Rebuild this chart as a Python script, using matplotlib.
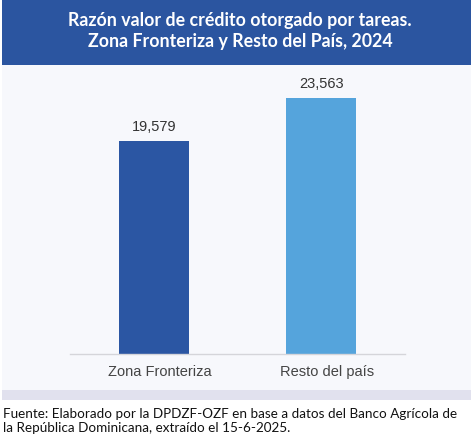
import matplotlib
matplotlib.use("Agg")
import matplotlib.pyplot as plt
import matplotlib.transforms as mtransforms
from matplotlib.patches import Rectangle

# datos
categorias = ["Zona Fronteriza", "Resto del país"]
valores = [19579, 23563]
etiquetas = ["19,579", "23,563"]
colores = ["#2b56a3", "#55a4dc"]

titulo = "Razón valor de crédito otorgado por tareas.\nZona Fronteriza y Resto del País, 2024"
fuente = ("Fuente: Elaborado por la DPDZF-OZF en base a datos del Banco Agrícola de\n"
          "la República Dominicana, extraído el 15-6-2025.")

W, H = 471, 442
fig = plt.figure(figsize=(W / 100, H / 100), dpi=100)
fig.patch.set_facecolor("white")

def px(x0, y0, x1, y1):
    # caja en pixeles (origen arriba a la izquierda) -> fraccion de figura
    return (x0 / W, 1 - y1 / H, (x1 - x0) / W, (y1 - y0) / H)

# panel de fondo
x, y, w, h = px(2, 65, 471, 390)
fig.patches.append(Rectangle((x, y), w, h, transform=fig.transFigure,
                             facecolor="#f7f8fc", edgecolor="none", zorder=-1))
x, y, w, h = px(2, 390, 471, 400)
fig.patches.append(Rectangle((x, y), w, h, transform=fig.transFigure,
                             facecolor="#e1e1ee", edgecolor="none", zorder=-1))
# banda del titulo
x, y, w, h = px(2, 0, 471, 65)
fig.patches.append(Rectangle((x, y), w, h, transform=fig.transFigure,
                             facecolor="#2b55a0", edgecolor="none", zorder=-1))

fig.text(240 / W, 1 - 31 / H, titulo, ha="center", va="center", color="white",
         fontsize=12.8, fontweight="bold", family="Lato", linespacing=1.3)

# grafico de barras
ytop = 25000
alto = 256 * ytop / valores[1]
ax = fig.add_axes(px(70, 354 - alto, 405, 354))
ax.set_facecolor("none")
pos = list(range(len(categorias)))
barras = ax.bar(pos, valores, width=0.418, color=colores, zorder=2)
for b, t in zip(barras, etiquetas):
    ax.annotate(t, (b.get_x() + b.get_width() / 2, b.get_height()),
                xytext=(0, 5), textcoords="offset points", ha="center", va="bottom",
                fontsize=10.5, color="#333333", family="Liberation Sans")
ax.set_xlim(-0.5, 1.5)
ax.set_ylim(0, ytop)
ax.set_xticks(pos)
ax.set_xticklabels(categorias, fontsize=10.5, color="#444444", family="Liberation Sans")
ax.tick_params(axis="x", length=0, pad=8)
desplaza = mtransforms.ScaledTranslation(6 / 100, 0, fig.dpi_scale_trans)
for lbl in ax.get_xticklabels():
    lbl.set_transform(lbl.get_transform() + desplaza)
ax.set_yticks([])
for s in ["top", "right", "left"]:
    ax.spines[s].set_visible(False)
ax.spines["bottom"].set_color("#d5d5da")
ax.spines["bottom"].set_linewidth(1)

fig.text(3 / W, 1 - 421 / H, fuente, ha="left", va="center", color="#111111",
         fontsize=9.7, family="Lato", linespacing=1.15)

fig.savefig("out.png", dpi=100)
